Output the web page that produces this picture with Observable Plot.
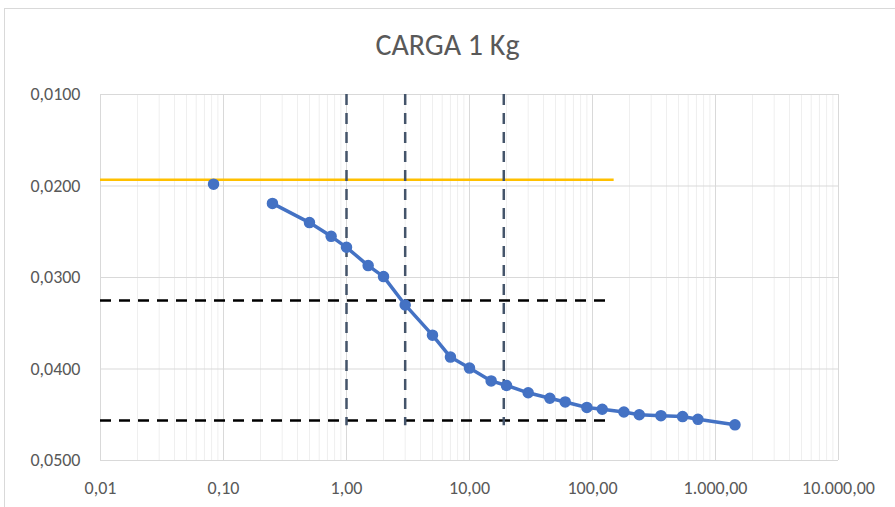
<!DOCTYPE html>
<html>
<head>
<meta charset="utf-8">
<script src="https://cdn.jsdelivr.net/npm/d3@7"></script>
<script src="https://cdn.jsdelivr.net/npm/@observablehq/plot@0.6"></script>
<style>
  html, body { margin: 0; padding: 0; background: #fff; }
  #wrap { position: relative; width: 895px; height: 507px; overflow: hidden; font-family: Carlito, Lato, "Liberation Sans", Arial, sans-serif; }
  #frame { position: absolute; left: 4px; top: 8px; width: 900px; height: 520px; border: 1px solid #d9d9d9; box-sizing: border-box; }
  #title { position: absolute; left: 0; top: 27px; width: 895px; text-align: center; font-size: 30px; font-weight: 300; line-height: 36px; color: #595959; }
  #chart { position: absolute; left: 0; top: 70px; }
  #chart svg text { font-size: 18px; fill: #595959; }
</style>
</head>
<body>
<div id="wrap">
  <div id="frame"></div>
  <div id="title">CARGA 1 Kg</div>
  <div id="chart"></div>
</div>
<script>
// Data
const titleText = "CARGA 1 Kg";
const firstTime = [0.083];
const firstReading = [0.0198];
const times = [0.25, 0.5, 0.75, 1, 1.5, 2, 3, 5, 7, 10, 15, 20, 30, 45, 60, 90, 120, 180, 240, 360, 540, 720, 1440];
const readings = [0.0219, 0.0240, 0.0255, 0.0267, 0.0287, 0.0299, 0.0330, 0.0363, 0.0387, 0.0399, 0.0413, 0.0418, 0.0426, 0.0432, 0.0436, 0.0442, 0.0444, 0.0447, 0.0450, 0.0451, 0.0452, 0.0455, 0.0461];
const yellowLevel = [0.01932];
const yellowXEnd = [150];
const blackLevels = [0.03251, 0.04563];
const blackXEnd = [135];
const verticalTimes = [1, 3, 19];
const verticalYEnd = [0.0462];
const xTicks = [0.01, 0.1, 1, 10, 100, 1000, 10000];
const yTicks = [0.01, 0.02, 0.03, 0.04, 0.05];
const xDomain = [0.01, 10000];
const yDomain = [0.01, 0.05];

const minorTicks = [];
for (let e = -2; e < 4; e++) for (let k = 2; k <= 9; k++) minorTicks.push(k * Math.pow(10, e));

const locale = d3.formatLocale({decimal: ",", thousands: ".", grouping: [3], currency: ["", ""]});
const fx = locale.format(",.2f");
const fy = v => locale.format(".4f")(v);

const series = times.map((t, i) => ({t, v: readings[i]}));
const first = firstTime.map((t, i) => ({t, v: firstReading[i]}));
const blackSegs = blackLevels.map(y => ({x1: xDomain[0], x2: blackXEnd[0], y}));
const vertSegs = verticalTimes.map(x => ({x, y1: yDomain[0], y2: verticalYEnd[0]}));

const chart = Plot.plot({
  width: 895,
  height: 437,
  marginTop: 24,
  marginBottom: 47,
  marginLeft: 100,
  marginRight: 57,
  style: {fontFamily: 'Carlito, Lato, "Liberation Sans", Arial, sans-serif', fontSize: "18px", color: "#595959", background: "transparent", overflow: "visible"},
  x: {type: "log", domain: xDomain, label: null},
  y: {domain: yDomain, reverse: true, label: null},
  marks: [
    Plot.ruleX(minorTicks, {stroke: "#efefef", strokeWidth: 1}),
    Plot.ruleX(xTicks, {stroke: "#d9d9d9", strokeWidth: 1}),
    Plot.ruleY(yTicks, {stroke: "#d9d9d9", strokeWidth: 1}),
    Plot.axisX({ticks: xTicks, tickFormat: fx, tickSize: 0, tickPadding: 21, fill: "#595959", fontSize: 18}),
    Plot.axisY({ticks: yTicks, tickFormat: fy, tickSize: 0, tickPadding: 20, fill: "#595959", fontSize: 18}),
    Plot.ruleY(yellowLevel, {x1: xDomain[0], x2: yellowXEnd[0], stroke: "#FFC000", strokeWidth: 2.5}),
    Plot.ruleY(blackSegs, {x1: "x1", x2: "x2", y: "y", stroke: "#000", strokeWidth: 2.5, strokeDasharray: "11,8"}),
    Plot.ruleX(vertSegs, {x: "x", y1: "y1", y2: "y2", stroke: "#44546A", strokeWidth: 2.5, strokeDasharray: "11,8"}),
    Plot.line(series, {x: "t", y: "v", stroke: "#4472C4", strokeWidth: 3.5}),
    Plot.dot(series, {x: "t", y: "v", r: 5, fill: "#4472C4", stroke: "#4472C4"}),
    Plot.dot(first, {x: "t", y: "v", r: 5, fill: "#4472C4", stroke: "#4472C4"})
  ]
});
document.getElementById("chart").appendChild(chart);
document.getElementById("title").textContent = titleText;
</script>
</body>
</html>
